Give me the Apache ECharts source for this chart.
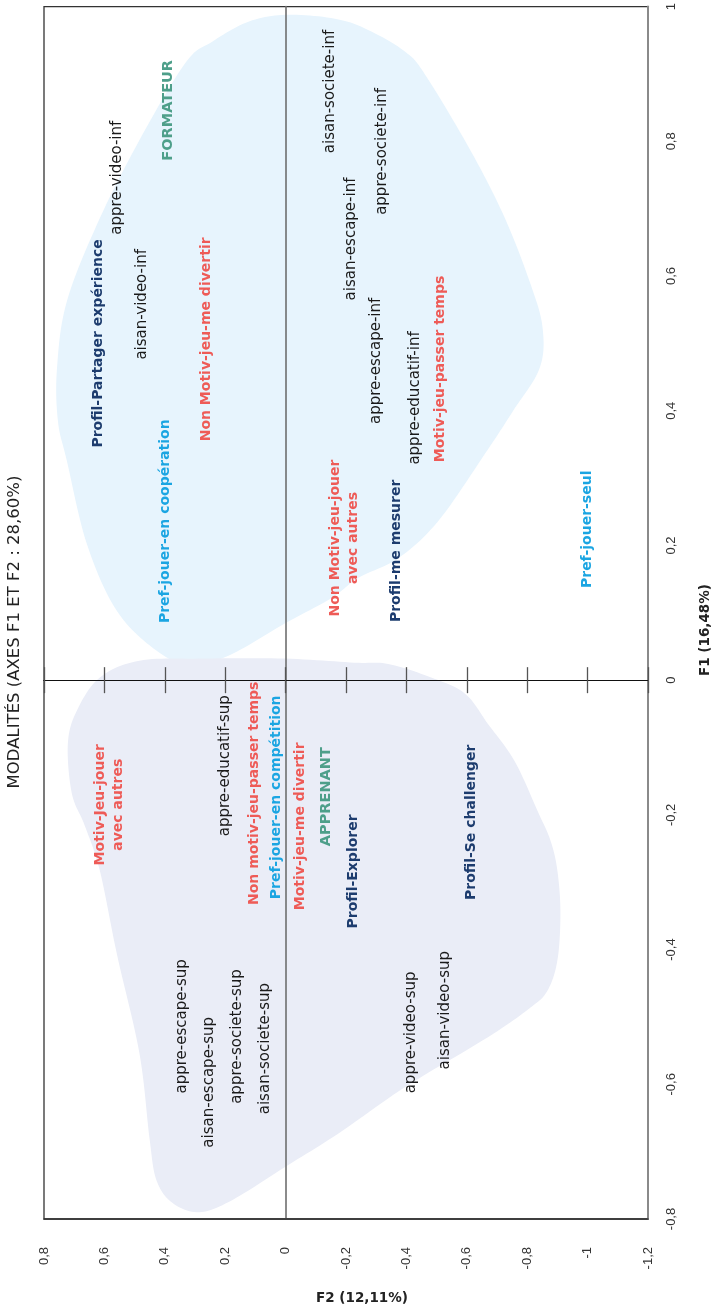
<!DOCTYPE html>
<html>
<head>
<meta charset="utf-8">
<script src="https://cdn.jsdelivr.net/npm/echarts@6/dist/echarts.min.js"></script>
<style>
html,body{margin:0;padding:0;background:#ffffff;}
#chart{width:713px;height:1310px;}
</style>
</head>
<body>
<div id="chart"></div>
<script>
// Axis ranges and tick step
const F2_MIN = -1.2, F2_MAX = 0.8;
const F1_MIN = -0.8, F1_MAX = 1;
const STEP = 0.2;

// Labels: [F2, F1, text]
const modalites = [
  [-0.149, 0.874, 'aisan-societe-inf'],
  [0.559, 0.746, 'appre-video-inf'],
  [-0.320, 0.785, 'appre-societe-inf'],
  [-0.218, 0.655, 'aisan-escape-inf'],
  [0.474, 0.558, 'aisan-video-inf'],
  [-0.300, 0.474, 'appre-escape-inf'],
  [-0.429, 0.419, 'appre-educatif-inf'],
  [0.200, -0.127, 'appre-educatif-sup'],
  [0.342, -0.514, 'appre-escape-sup'],
  [0.253, -0.597, 'aisan-escape-sup'],
  [0.161, -0.529, 'appre-societe-sup'],
  [0.069, -0.547, 'aisan-societe-sup'],
  [-0.416, -0.523, 'appre-video-sup'],
  [-0.528, -0.490, 'aisan-video-sup']
];
const profils = [
  [0.619, 0.500, 'Profil-Partager expérience'],
  [-0.366, 0.192, 'Profil-me mesurer'],
  [-0.225, -0.284, 'Profil-Explorer'],
  [-0.614, -0.211, 'Profil-Se challenger']
];
const motivations = [
  [0.263, 0.506, 'Non Motiv-jeu-me divertir'],
  [-0.511, 0.462, 'Motiv-jeu-passer temps'],
  [-0.195, 0.211, 'Non Motiv-jeu-jouer\navec autres'],
  [0.105, -0.168, 'Non motiv-jeu-passer temps'],
  [-0.050, -0.217, 'Motiv-jeu-me divertir'],
  [0.583, -0.185, 'Motiv-Jeu-jouer\navec autres']
];
const preferences = [
  [0.398, 0.236, 'Pref-jouer-en coopération'],
  [-1.000, 0.224, 'Pref-jouer-seul'],
  [0.029, -0.174, 'Pref-jouer-en compétition']
];
const roles = [
  [0.388, 0.846, 'FORMATEUR'],
  [-0.136, -0.173, 'APPRENANT']
];

// Zone outlines: [F2, F1]
const zoneFormateur = [
  [0.309, 0.021], [0.177, 0.039], [0.003, 0.084], [-0.152, 0.122], [-0.241, 0.152],
  [-0.373, 0.181], [-0.505, 0.236], [-0.660, 0.336], [-0.752, 0.399], [-0.841, 0.463],
  [-0.851, 0.523], [-0.811, 0.588], [-0.726, 0.686], [-0.614, 0.785], [-0.462, 0.899],
  [-0.396, 0.933], [-0.284, 0.963], [-0.175, 0.981], [-0.011, 0.988], [0.121, 0.978],
  [0.243, 0.948], [0.329, 0.918], [0.474, 0.810], [0.615, 0.686], [0.724, 0.563],
  [0.757, 0.463], [0.754, 0.385], [0.724, 0.325], [0.658, 0.202], [0.559, 0.103],
  [0.428, 0.044]
];
const zoneApprenant = [
  [0.484, 0.029], [0.286, 0.032], [0.003, 0.032], [-0.228, 0.026], [-0.340, 0.024],
  [-0.482, 0.004], [-0.594, -0.020], [-0.670, -0.065], [-0.758, -0.120], [-0.834, -0.194],
  [-0.877, -0.238], [-0.900, -0.283], [-0.910, -0.346], [-0.900, -0.416], [-0.867, -0.461],
  [-0.811, -0.486], [-0.670, -0.530], [-0.396, -0.604], [-0.175, -0.673], [0.003, -0.723],
  [0.177, -0.772], [0.286, -0.790], [0.375, -0.776], [0.428, -0.742], [0.451, -0.679],
  [0.484, -0.554], [0.559, -0.406], [0.615, -0.283], [0.665, -0.216], [0.708, -0.168],
  [0.721, -0.094], [0.691, -0.045], [0.615, 0.004]
];

const LABEL_FONT = 'DejaVu Sans';
const TICK_FONT = 'Liberation Sans';

function fmt(v) {
  const r = Math.round(v * 10) / 10;
  return String(r).replace('.', ',');
}

// closed Catmull-Rom curve through pixel points
function closedSpline(pts, segs) {
  const out = [];
  const n = pts.length;
  for (let i = 0; i < n; i++) {
    const p0 = pts[(i - 1 + n) % n], p1 = pts[i], p2 = pts[(i + 1) % n], p3 = pts[(i + 2) % n];
    for (let s = 0; s < segs; s++) {
      const t = s / segs, t2 = t * t, t3 = t2 * t;
      const f = (a, b, c, d) => 0.5 * ((2 * b) + (-a + c) * t + (2 * a - 5 * b + 4 * c - d) * t2 + (-a + 3 * b - 3 * c + d) * t3);
      out.push([f(p0[0], p1[0], p2[0], p3[0]), f(p0[1], p1[1], p2[1], p3[1])]);
    }
  }
  return out;
}

function zoneSeries(points, color) {
  return {
    type: 'custom',
    coordinateSystem: 'cartesian2d',
    z: 1,
    silent: true,
    animation: false,
    data: points,
    renderItem: function (params, api) {
      if (params.dataIndex !== 0) return;
      const pts = closedSpline(points.map(p => api.coord(p)), 12);
      return {
        type: 'polygon',
        shape: { points: pts },
        style: { fill: color }
      };
    }
  };
}

function labelSeries(rows, color, size, weight) {
  return {
    type: 'scatter',
    z: 4,
    silent: true,
    symbolSize: 1,
    itemStyle: { color: 'rgba(0,0,0,0)', opacity: 1 },
    data: rows.map(r => ({ name: r[2], value: [r[0], r[1]] })),
    label: {
      show: true,
      position: 'inside',
      rotate: 90,
      formatter: '{b}',
      color: color,
      opacity: 1,
      fontSize: size,
      fontWeight: weight,
      fontFamily: LABEL_FONT,
      lineHeight: size + 4,
      align: 'center',
      verticalAlign: 'middle'
    },
    emphasis: { disabled: true }
  };
}

const xBase = {
  type: 'value', min: F2_MIN, max: F2_MAX, interval: STEP, inverse: true,
  splitLine: { show: false }, z: 3
};
const yBase = {
  type: 'value', min: F1_MIN, max: F1_MAX, interval: STEP,
  splitLine: { show: false }, z: 3
};

const chart = echarts.init(document.getElementById('chart'), null, { renderer: 'canvas' });
chart.setOption({
  animation: false,
  backgroundColor: '#ffffff',
  grid: {
    left: 44, top: 5, width: 604, height: 1214,
    show: true, borderColor: '#333333', borderWidth: 1.3, backgroundColor: 'transparent'
  },
  xAxis: [
    Object.assign({}, xBase, {
      position: 'bottom',
      axisLine: { show: true, onZero: false, lineStyle: { color: '#333333', width: 1.5 } },
      axisTick: { show: false },
      axisLabel: { rotate: 90, margin: 28, formatter: fmt, fontFamily: TICK_FONT, fontSize: 13, color: '#333333' }
    }),
    Object.assign({}, xBase, {
      position: 'bottom',
      axisLine: { show: true, onZero: true, lineStyle: { color: '#111111', width: 1.2 } },
      axisTick: { show: true, inside: false, length: 13, lineStyle: { color: '#555555', width: 1.3 } },
      axisLabel: { show: false }
    }),
    Object.assign({}, xBase, {
      position: 'bottom',
      axisLine: { show: true, onZero: true, lineStyle: { color: '#111111', width: 1.2 } },
      axisTick: { show: true, inside: true, length: 13, lineStyle: { color: '#555555', width: 1.3 } },
      axisLabel: { show: false }
    })
  ],
  yAxis: [
    Object.assign({}, yBase, {
      position: 'right',
      axisLine: { show: true, onZero: false, lineStyle: { color: '#8a8a8a', width: 2 } },
      axisTick: { show: false },
      axisLabel: { rotate: 90, margin: 17, formatter: fmt, fontFamily: TICK_FONT, fontSize: 13, color: '#333333' }
    }),
    Object.assign({}, yBase, {
      position: 'left',
      axisLine: { show: true, onZero: true, lineStyle: { color: '#6e6e6e', width: 1.6 } },
      axisTick: { show: false },
      axisLabel: { show: false }
    })
  ],
  graphic: [
    {
      type: 'text', x: 15, y: 632, rotation: Math.PI / 2,
      style: { text: 'MODALITÉS (AXES F1 ET F2 : 28,60%)', align: 'center', verticalAlign: 'middle',
               textAlign: 'center', textVerticalAlign: 'middle',
               font: '16.5px "DejaVu Sans"', fill: '#222222' }
    },
    {
      type: 'text', x: 705, y: 630, rotation: Math.PI / 2,
      style: { text: 'F1 (16,48%)', align: 'center', verticalAlign: 'middle',
               textAlign: 'center', textVerticalAlign: 'middle',
               font: 'bold 13.5px "DejaVu Sans"', fill: '#222222' }
    },
    {
      type: 'text', x: 362, y: 1298,
      style: { text: 'F2 (12,11%)', align: 'center', verticalAlign: 'middle',
               textAlign: 'center', textVerticalAlign: 'middle',
               font: 'bold 13.5px "DejaVu Sans"', fill: '#222222' }
    }
  ],
  series: [
    zoneSeries(zoneFormateur, '#e7f4fd'),
    zoneSeries(zoneApprenant, '#eaedf7'),
    labelSeries(modalites, '#1a1a1a', 15, 'normal'),
    labelSeries(profils, '#1d3c6e', 14, 'bold'),
    labelSeries(motivations, '#ee5b57', 14, 'bold'),
    labelSeries(preferences, '#1ba5e2', 14, 'bold'),
    labelSeries(roles, '#4e9f8a', 14.5, 'bold')
  ]
});
</script>
</body>
</html>
